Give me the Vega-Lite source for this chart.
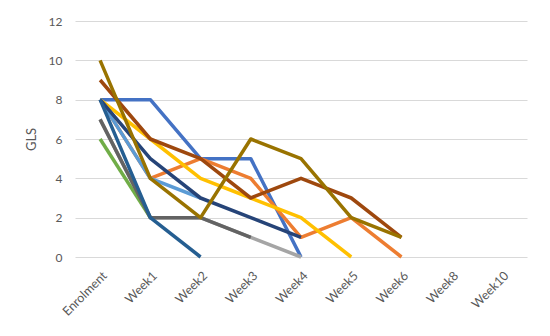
{
  "$schema": "https://vega.github.io/schema/vega-lite/v6.json",
  "width": 452,
  "height": 236,
  "autosize": {"type": "none"},
  "padding": {"left": 75, "top": 21, "right": 23, "bottom": 79},
  "background": "white",
  "config": {
    "view": {"stroke": null},
    "font": "Lato",
    "axis": {"labelColor": "#595959", "titleColor": "#595959", "labelFont": "Lato", "titleFont": "Lato"}
  },
  "data": {
    "values": [
      {"series": "s01", "week": "Enrolment", "gls": 8},
      {"series": "s01", "week": "Week1", "gls": 8},
      {"series": "s01", "week": "Week2", "gls": 5},
      {"series": "s01", "week": "Week3", "gls": 5},
      {"series": "s01", "week": "Week4", "gls": 0},
      {"series": "s02", "week": "Enrolment", "gls": 8},
      {"series": "s02", "week": "Week1", "gls": 4},
      {"series": "s02", "week": "Week2", "gls": 5},
      {"series": "s02", "week": "Week3", "gls": 4},
      {"series": "s02", "week": "Week4", "gls": 1},
      {"series": "s02", "week": "Week5", "gls": 2},
      {"series": "s02", "week": "Week6", "gls": 0},
      {"series": "s03", "week": "Enrolment", "gls": 7},
      {"series": "s03", "week": "Week1", "gls": 2},
      {"series": "s03", "week": "Week2", "gls": 2},
      {"series": "s03", "week": "Week3", "gls": 1},
      {"series": "s03", "week": "Week4", "gls": 0},
      {"series": "s04", "week": "Enrolment", "gls": 8},
      {"series": "s04", "week": "Week1", "gls": 6},
      {"series": "s04", "week": "Week2", "gls": 4},
      {"series": "s04", "week": "Week3", "gls": 3},
      {"series": "s04", "week": "Week4", "gls": 2},
      {"series": "s04", "week": "Week5", "gls": 0},
      {"series": "s05", "week": "Enrolment", "gls": 8},
      {"series": "s05", "week": "Week1", "gls": 4},
      {"series": "s05", "week": "Week2", "gls": 3},
      {"series": "s06", "week": "Enrolment", "gls": 6},
      {"series": "s06", "week": "Week1", "gls": 2},
      {"series": "s07", "week": "Enrolment", "gls": 8},
      {"series": "s07", "week": "Week1", "gls": 5},
      {"series": "s07", "week": "Week2", "gls": 3},
      {"series": "s07", "week": "Week3", "gls": 2},
      {"series": "s07", "week": "Week4", "gls": 1},
      {"series": "s08", "week": "Enrolment", "gls": 9},
      {"series": "s08", "week": "Week1", "gls": 6},
      {"series": "s08", "week": "Week2", "gls": 5},
      {"series": "s08", "week": "Week3", "gls": 3},
      {"series": "s08", "week": "Week4", "gls": 4},
      {"series": "s08", "week": "Week5", "gls": 3},
      {"series": "s08", "week": "Week6", "gls": 1},
      {"series": "s09", "week": "Enrolment", "gls": 7},
      {"series": "s09", "week": "Week1", "gls": 2},
      {"series": "s09", "week": "Week2", "gls": 2},
      {"series": "s09", "week": "Week3", "gls": 1},
      {"series": "s10", "week": "Enrolment", "gls": 10},
      {"series": "s10", "week": "Week1", "gls": 4},
      {"series": "s10", "week": "Week2", "gls": 2},
      {"series": "s10", "week": "Week3", "gls": 6},
      {"series": "s10", "week": "Week4", "gls": 5},
      {"series": "s10", "week": "Week5", "gls": 2},
      {"series": "s10", "week": "Week6", "gls": 1},
      {"series": "s11", "week": "Enrolment", "gls": 8},
      {"series": "s11", "week": "Week1", "gls": 2},
      {"series": "s11", "week": "Week2", "gls": 0}
    ]
  },
  "mark": {"type": "line", "strokeWidth": 3.5, "strokeJoin": "round"},
  "encoding": {
    "x": {
      "field": "week",
      "type": "ordinal",
      "scale": {"type": "point", "padding": 0.5, "domain": ["Enrolment", "Week1", "Week2", "Week3", "Week4", "Week5", "Week6", "Week8", "Week10"]},
      "axis": {"title": null, "labelAngle": -45, "labelFontSize": 12.5, "ticks": false, "domain": false, "labelPadding": 12, "grid": false}
    },
    "y": {
      "field": "gls",
      "type": "quantitative",
      "scale": {"domain": [0, 12], "nice": false},
      "axis": {"title": "GLS", "titleFontSize": 13, "titleFontWeight": "normal", "titlePadding": 10, "values": [0, 2, 4, 6, 8, 10, 12], "labelFontSize": 12, "ticks": false, "domain": false, "labelPadding": 13, "gridColor": "#d9d9d9", "gridWidth": 1}
    },
    "color": {
      "field": "series",
      "type": "nominal",
      "legend": null,
      "scale": {
        "domain": ["s01", "s02", "s03", "s04", "s05", "s06", "s07", "s08", "s09", "s10", "s11"],
        "range": ["#4472C4", "#ED7D31", "#A5A5A5", "#FFC000", "#5B9BD5", "#70AD47", "#264478", "#9E480E", "#636363", "#997300", "#255E91"]
      }
    }
  }
}
